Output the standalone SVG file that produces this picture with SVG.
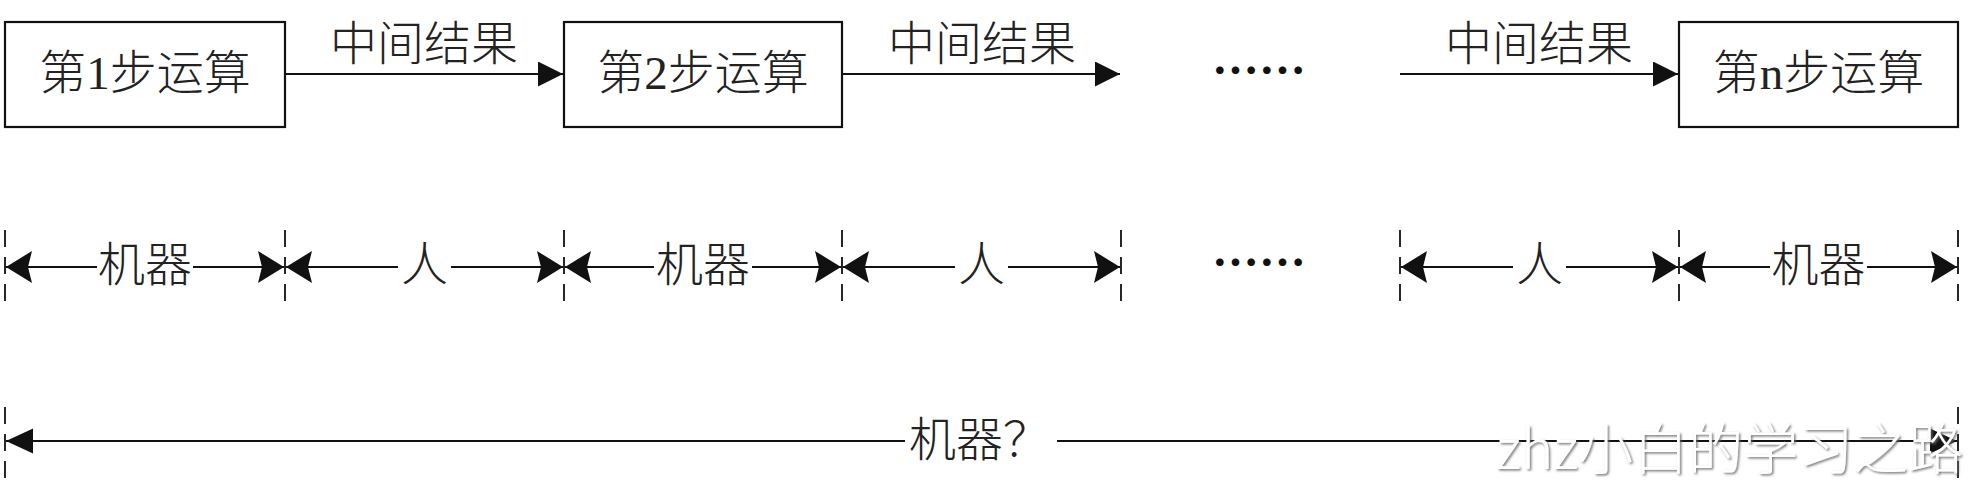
<svg xmlns="http://www.w3.org/2000/svg" width="1977" height="484" viewBox="0 0 1977 484">
<style>
.box{fill:#fff;stroke:#111;stroke-width:2.2}
.ln{stroke:#111;stroke-width:2;fill:none}
.tick{stroke:#111;stroke-width:1.8;stroke-dasharray:17 10;fill:none}
.t{font-family:"Liberation Serif","Noto Sans CJK SC",serif;font-size:47px;fill:#222;text-anchor:middle;font-weight:300}
.dots{font-family:"Noto Sans CJK SC",sans-serif;font-size:47px;fill:#111;text-anchor:middle;font-weight:bold}
.wm{font-family:"Noto Sans CJK SC",sans-serif;font-size:55px;fill:#fff;font-weight:300}
</style>
<defs>
<marker id="a1" markerUnits="userSpaceOnUse" markerWidth="26" markerHeight="26" refX="25" refY="12.5" orient="auto-start-reverse">
<path d="M0,0 L25,12.5 L0,25 Z" fill="#111"/>
</marker>
<marker id="a2" markerUnits="userSpaceOnUse" markerWidth="27" markerHeight="33" refX="26" refY="16" orient="auto-start-reverse">
<path d="M0,0 L26,16 L0,32 L4,16 Z" fill="#111"/>
</marker>
<marker id="a3" markerUnits="userSpaceOnUse" markerWidth="28" markerHeight="26" refX="27" refY="12.5" orient="auto-start-reverse">
<path d="M0,0 L27,12.5 L0,25 Z" fill="#111"/>
</marker>
<filter id="sh" x="-5%" y="-20%" width="110%" height="140%">
<feDropShadow dx="1.5" dy="1.5" stdDeviation="0.8" flood-color="#666" flood-opacity="0.9"/>
</filter>
</defs>

<g id="step1">
<rect class="box" x="5" y="22" width="280" height="105"/>
<text class="t" x="145" y="88.5">第1步运算</text>
</g>
<g id="step2">
<rect class="box" x="564" y="22" width="278" height="105"/>
<text class="t" x="703" y="88.5">第2步运算</text>
</g>
<g id="stepn">
<rect class="box" x="1679" y="22" width="279" height="105"/>
<text class="t" x="1818.5" y="88.5">第n步运算</text>
</g>

<g id="connectors">
<line class="ln" x1="285" y1="74" x2="563" y2="74" marker-end="url(#a1)"/>
<line class="ln" x1="842" y1="74" x2="1120" y2="74" marker-end="url(#a1)"/>
<line class="ln" x1="1400" y1="74" x2="1678" y2="74" marker-end="url(#a1)"/>
<text class="t" x="424" y="59.5">中间结果</text>
<text class="t" x="982" y="59.5">中间结果</text>
<text class="t" x="1539" y="59.5">中间结果</text>
</g>

<g id="ellipsis-top">
<text class="dots" x="1259" y="88">……</text>
</g>

<g id="dimensions">
<line class="tick" x1="5" y1="230" x2="5" y2="302"/>
<line class="tick" x1="285" y1="230" x2="285" y2="302"/>
<line class="tick" x1="564" y1="230" x2="564" y2="302"/>
<line class="tick" x1="842" y1="230" x2="842" y2="302"/>
<line class="tick" x1="1121" y1="230" x2="1121" y2="302"/>
<line class="tick" x1="1400" y1="230" x2="1400" y2="302"/>
<line class="tick" x1="1679" y1="230" x2="1679" y2="302"/>
<line class="tick" x1="1958" y1="230" x2="1958" y2="302"/>

<line class="ln" x1="6" y1="267" x2="97" y2="267" marker-start="url(#a2)"/>
<line class="ln" x1="193" y1="267" x2="284" y2="267" marker-end="url(#a2)"/>
<text class="t" x="145" y="280.5">机器</text>

<line class="ln" x1="286" y1="267" x2="398" y2="267" marker-start="url(#a2)"/>
<line class="ln" x1="451" y1="267" x2="563" y2="267" marker-end="url(#a2)"/>
<text class="t" x="424.5" y="280.5">人</text>

<line class="ln" x1="565" y1="267" x2="654" y2="267" marker-start="url(#a2)"/>
<line class="ln" x1="752" y1="267" x2="841" y2="267" marker-end="url(#a2)"/>
<text class="t" x="703" y="280.5">机器</text>

<line class="ln" x1="843" y1="267" x2="955" y2="267" marker-start="url(#a2)"/>
<line class="ln" x1="1008" y1="267" x2="1120" y2="267" marker-end="url(#a2)"/>
<text class="t" x="981.5" y="280.5">人</text>

<text class="dots" x="1259" y="280">……</text>

<line class="ln" x1="1401" y1="267" x2="1513" y2="267" marker-start="url(#a2)"/>
<line class="ln" x1="1566" y1="267" x2="1678" y2="267" marker-end="url(#a2)"/>
<text class="t" x="1539.5" y="280.5">人</text>

<line class="ln" x1="1680" y1="267" x2="1770" y2="267" marker-start="url(#a2)"/>
<line class="ln" x1="1867" y1="267" x2="1957" y2="267" marker-end="url(#a2)"/>
<text class="t" x="1818.5" y="280.5">机器</text>
</g>

<g id="overall">
<line class="tick" x1="5" y1="407" x2="5" y2="478"/>
<line class="tick" x1="1958" y1="407" x2="1958" y2="478"/>
<line class="ln" x1="6" y1="441" x2="905" y2="441" marker-start="url(#a3)"/>
<line class="ln" x1="1057" y1="441" x2="1957" y2="441" marker-end="url(#a3)"/>
<text class="t" x="909" y="455.5" style="text-anchor:start">机器？</text>
</g>

<g id="watermark">
<text class="wm" x="1496" y="469" filter="url(#sh)">zhz小白的学习之路</text>
</g>
</svg>
